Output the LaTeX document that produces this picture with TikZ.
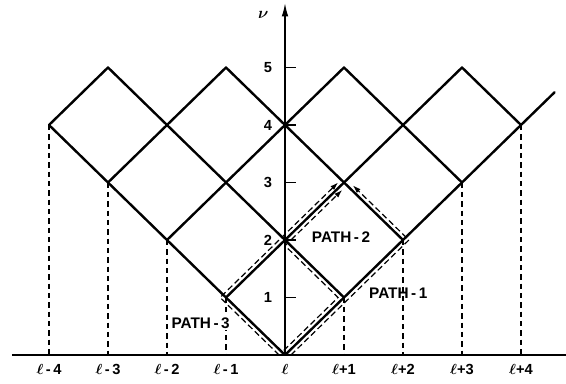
\documentclass[tikz,border=0pt]{standalone}
\usepackage{bm}
\usepackage{fontspec}
\setmainfont{Liberation Sans}
\usetikzlibrary{arrows.meta}
\begin{document}
\begin{tikzpicture}[x=44.25pt,y=43.125pt,
  lattice/.style={line width=1.8pt, line cap=round, line join=round},
  axisline/.style={line width=1.1pt},
  baseaxis/.style={line width=1.7pt},
  guide/.style={line width=0.8pt, dash pattern=on 4pt off 3pt},
  pathline/.style={line width=0.9pt, dash pattern=on 4.5pt off 2.5pt, line join=miter,
    -{Latex[length=6pt,width=4pt]}},
  lbl/.style={font=\fontsize{11}{13}\selectfont\bfseries, inner sep=1pt},
  pathlbl/.style={font=\fontsize{11.5}{13}\selectfont\bfseries, inner sep=1pt}
]
\useasboundingbox (-213.75pt,-21pt) rectangle (210.75pt,266.25pt);

% lattice points
\coordinate (O) at (0,0);
\foreach \k in {1,2,3,4} {
  \coordinate (R\k) at (\k,\k);
  \coordinate (L\k) at (-\k,\k);
  \coordinate (B\k) at (\k,0);
  \coordinate (BL\k) at (-\k,0);
}
\coordinate (T1) at (1,5);
\coordinate (T3) at (3,5);
\coordinate (Tm1) at (-1,5);
\coordinate (Tm3) at (-3,5);
\coordinate (Rend) at (4.57,4.57);
\coordinate (Top) at (0,6.12);
\coordinate (BaseL) at (-4.63,0);
\coordinate (BaseR) at (4.76,0);

% baseline and axis
\draw[baseaxis] (BaseL) -- (BaseR);
\draw[axisline,-{Latex[length=10pt,width=5pt]}] (O) -- (Top);
\node[lbl] (nu) at (-0.37,5.91) {\fontsize{12.5}{14}\selectfont$\bm{\nu}$};
\foreach \k in {1,...,5} {
  \coordinate (tk\k) at (0,\k);
  \coordinate (te\k) at (0.19,\k);
  \draw[axisline] (tk\k) -- (te\k);
  \node[lbl] (n\k) at (-0.29,\k) {\k};
}

% dashed verticals
\foreach \k in {1,2,3,4} {
  \draw[guide] (R\k) -- (B\k);
  \draw[guide] (L\k) -- (BL\k);
  \node[lbl] (lp\k) at (\k,-0.25) {$\bm{\ell}$+\k};
  \node[lbl] (lm\k) at (-\k,-0.25) {$\bm{\ell}$\,-\,\k};
}
\node[lbl] (l0) at (0,-0.25) {$\bm{\ell}$};

% lattice lines
\draw[lattice] (O) -- (Rend);
\draw[lattice] (L1) -- (T3);
\draw[lattice] (L2) -- (T1);
\draw[lattice] (L3) -- (Tm1);
\draw[lattice] (L4) -- (Tm3);
\draw[lattice] (O) -- (L4);
\draw[lattice] (R1) -- (Tm3);
\draw[lattice] (R2) -- (Tm1);
\draw[lattice] (R3) -- (T1);
\draw[lattice] (R4) -- (T3);

% paths
\coordinate (p1a) at (0.1,0);
\coordinate (p1b) at (2.1,2.0);
\coordinate (p1c) at (1.15,2.95);
\draw[pathline] (p1a) -- (p1b) -- (p1c);

\coordinate (p2a) at (-0.02,0.08);
\coordinate (p2b) at (0.9,1.0);
\coordinate (p2c) at (0,1.9);
\coordinate (p2d) at (0.97,2.87);
\draw[pathline] (p2a) -- (p2b) -- (p2c) -- (p2d);

\coordinate (p3a) at (-0.1,0);
\coordinate (p3b) at (-1.1,1.0);
\coordinate (p3c) at (0.9,3.0);
\draw[pathline] (p3a) -- (p3b) -- (p3c);

\node[pathlbl] (path1) at (1.92,1.08) {PATH\,-\,1};
\node[pathlbl] (path2) at (0.95,2.05) {PATH\,-\,2};
\node[pathlbl, fill=white, inner sep=1.5pt] (path3) at (-1.43,0.56) {PATH\,-\,3};
\end{tikzpicture}
\end{document}
